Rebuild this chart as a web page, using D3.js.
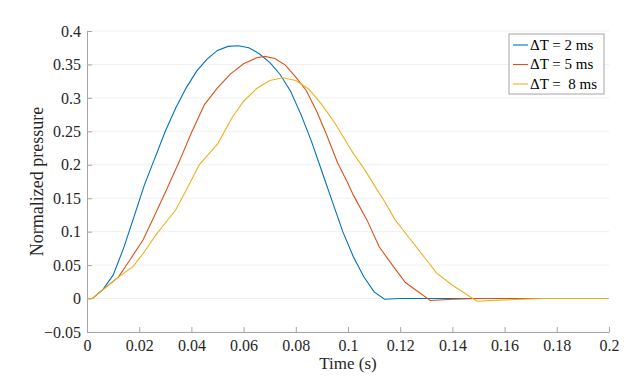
<!DOCTYPE html>
<meta charset="utf-8">
<html lang="en">
<head>
  <title>Normalized pressure</title>
  <script src="https://d3js.org/d3.v7.min.js"></script>
  <style>
    body { margin: 0; background: #fff; }
    svg text { font-family: "Liberation Serif", "Times New Roman", Times, "DejaVu Serif", serif !important; }
  </style>
</head>
<body>
<div id="chart"></div>
<script>

// series (time in s, normalized pressure)
var t2 = [0, 0.002, 0.006, 0.01, 0.014, 0.018, 0.022, 0.026, 0.03, 0.034, 0.038, 0.042, 0.046, 0.05, 0.054, 0.058, 0.062, 0.066, 0.07, 0.074, 0.078, 0.082, 0.086, 0.09, 0.094, 0.098, 0.102, 0.106, 0.11, 0.114, 0.12, 0.14, 0.16, 0.18, 0.2];
var p2 = [0, 0, 0.013, 0.035, 0.075, 0.122, 0.17, 0.21, 0.25, 0.285, 0.315, 0.34, 0.358, 0.371, 0.377, 0.378, 0.375, 0.366, 0.353, 0.335, 0.31, 0.275, 0.235, 0.19, 0.145, 0.1, 0.063, 0.033, 0.01, -0.001, 0, 0, 0, 0, 0];

var t5 = [0, 0.002, 0.006, 0.012, 0.016, 0.0215, 0.026, 0.0305, 0.0356, 0.04, 0.045, 0.05, 0.055, 0.06, 0.065, 0.068, 0.072, 0.076, 0.08, 0.084, 0.088, 0.092, 0.096, 0.1, 0.102, 0.1072, 0.112, 0.117, 0.122, 0.1315, 0.14, 0.15, 0.17, 0.2];
var p5 = [0, 0, 0.013, 0.032, 0.055, 0.088, 0.125, 0.163, 0.207, 0.248, 0.29, 0.315, 0.336, 0.351, 0.36, 0.362, 0.359, 0.349, 0.331, 0.311, 0.28, 0.243, 0.203, 0.172, 0.155, 0.118, 0.077, 0.05, 0.024, -0.003, -0.001, 0, 0, 0];

var t8 = [0, 0.002, 0.006, 0.012, 0.0177, 0.022, 0.026, 0.03, 0.0339, 0.038, 0.043, 0.0502, 0.0555, 0.06, 0.065, 0.07, 0.075, 0.08, 0.085, 0.09, 0.095, 0.1, 0.102, 0.106, 0.11, 0.114, 0.118, 0.122, 0.126, 0.13, 0.134, 0.14, 0.1494, 0.16, 0.175, 0.2];
var p8 = [0, 0, 0.013, 0.032, 0.048, 0.07, 0.093, 0.113, 0.132, 0.162, 0.2, 0.232, 0.27, 0.295, 0.314, 0.326, 0.33, 0.326, 0.313, 0.29, 0.262, 0.23, 0.217, 0.195, 0.17, 0.145, 0.118, 0.098, 0.078, 0.058, 0.038, 0.02, -0.004, -0.002, 0, 0];

var seriesNames = ["\u0394T = 2 ms", "\u0394T = 5 ms", "\u0394T =  8 ms"];
var seriesColors = ["#0072BD", "#D95319", "#EDB120"];

var xTicks = [0, 0.02, 0.04, 0.06, 0.08, 0.1, 0.12, 0.14, 0.16, 0.18, 0.2];
var yTicks = [-0.05, 0, 0.05, 0.1, 0.15, 0.2, 0.25, 0.3, 0.35, 0.4];

var series = [
  { name: seriesNames[0], color: seriesColors[0], values: d3.zip(t2, p2) },
  { name: seriesNames[1], color: seriesColors[1], values: d3.zip(t5, p5) },
  { name: seriesNames[2], color: seriesColors[2], values: d3.zip(t8, p8) }
];

// set the dimensions and margins of the graph
var margin = {top: 31, right: 29, bottom: 48, left: 87},
    width = 638 - margin.left - margin.right,
    height = 380 - margin.top - margin.bottom;

var svg = d3.select("#chart")
  .append("svg")
    .attr("width", 638)
    .attr("height", 380)
  .append("g")
    .attr("transform", "translate(" + margin.left + "," + margin.top + ")");

var x = d3.scaleLinear().domain([0, 0.2]).range([0, width]);
var y = d3.scaleLinear().domain([-0.05, 0.4]).range([height, 0]);

// horizontal grid
svg.append("g")
  .selectAll("line")
  .data(yTicks)
  .enter()
  .append("line")
    .attr("x1", 0)
    .attr("x2", width)
    .attr("y1", function (d) { return y(d); })
    .attr("y2", function (d) { return y(d); })
    .style("stroke", "#f0f0f0")
    .style("stroke-width", 1);

// axes
var fmt = function (d) { return d3.format("")(+d.toFixed(2)); };

var xAxis = svg.append("g")
  .attr("transform", "translate(0," + height + ")")
  .call(d3.axisBottom(x).tickValues(xTicks).tickFormat(fmt).tickSizeInner(-5).tickSizeOuter(0).tickPadding(8));

var yAxis = svg.append("g")
  .call(d3.axisLeft(y).tickValues(yTicks).tickFormat(fmt).tickSizeInner(-5).tickSizeOuter(0).tickPadding(6));

[xAxis, yAxis].forEach(function (a) {
  a.attr("font-family", null);
  a.select(".domain").style("stroke", "#a6a6a6");
  a.selectAll(".tick line").style("stroke", "#a6a6a6");
  a.selectAll(".tick text")
    .style("font-size", "16px")
    .style("fill", "#262626");
});

// lines
var line = d3.line()
  .x(function (d) { return x(d[0]); })
  .y(function (d) { return y(d[1]); });

svg.append("g")
  .selectAll("path")
  .data(series)
  .enter()
  .append("path")
    .attr("d", function (d) { return line(d.values); })
    .style("fill", "none")
    .style("stroke", function (d) { return d.color; })
    .style("stroke-width", 1.1);

// axis labels
svg.append("text")
  .attr("x", width / 2)
  .attr("y", height + 37)
  .style("text-anchor", "middle")
  .style("font-size", "17px")
  .style("fill", "#262626")
  .text("Time (s)");

svg.append("text")
  .attr("transform", "rotate(-90)")
  .attr("x", -height / 2)
  .attr("y", -44)
  .style("text-anchor", "middle")
  .style("font-size", "18px")
  .style("fill", "#262626")
  .text("Normalized pressure");

// legend
var lg = svg.append("g")
  .attr("transform", "translate(" + (509 - margin.left) + "," + (34 - margin.top) + ")");

lg.append("rect")
  .attr("width", 95)
  .attr("height", 60)
  .style("fill", "#fff")
  .style("stroke", "#a6a6a6")
  .style("stroke-width", 1);

series.forEach(function (s, i) {
  var yy = 11 + i * 19.5;
  lg.append("line")
    .attr("x1", 4).attr("x2", 19)
    .attr("y1", yy).attr("y2", yy)
    .style("stroke", s.color)
    .style("stroke-width", 1.1);
  lg.append("text")
    .attr("x", 21)
    .attr("y", yy + 4.5)
    .style("font-size", "15px")
    .style("fill", "#000")
    .style("white-space", "pre")
    .text(s.name);
});

</script>
</body>
</html>
